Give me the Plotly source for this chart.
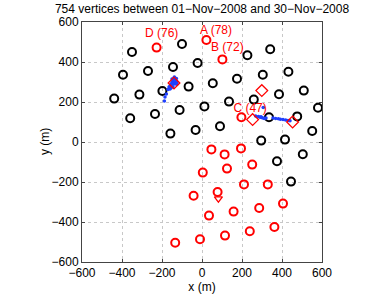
import plotly.graph_objects as go

# Black circles (other stations)
black_x = [-350, -100, -395, -270, -145, -22, 227, 341, 304, 432, 175, 54, -67, -198, -313, -439,
           -359, -235, -112, 12, 135, 259, 385, 509, 580, 335, 476, 551, 90, -32, -158, 296, 415,
           504, 375, 445]
black_y = [450, 490, 336, 355, 375, 395, 434, 464, 336, 351, 316, 294, 277, 255, 237, 217,
           119, 140, 160, 178, 202, 212, 239, 257, 171, 124, 128, 55, 79, 60, 42, 7, 12,
           -61, -96, -198]

# Red circles (selected stations)
red_x = [22, -227, 102, 197, 47, 195, 113, 251, 125, 4, 210, 329, 78, -42, 405, 286, 158, 35,
         362, 239, 115, -10, -134]
red_y = [510, 472, 413, 124, -37, -32, -62, -113, -133, -153, -212, -212, -250, -269, -308, -330,
         -348, -368, -425, -446, -468, -486, -504]

# Red diamonds
dia_x = [-140, 299, 253, 453]
dia_y = [295, 257, 112, 100]

# Red triangle
tri_x = [82]
tri_y = [-283]

# Blue vertices (visible)
blue_x = [-160, -155, -150, -145, -140, -135, -130, -125, -150, -140, -135, -130, -145, -155,
          -160, -150, -138, -128, -125, -165, -170, -178, -185, -188, -142, -148,
          268, 282, 290, 298, 305, 312, 320, 295, 306, 355, 368, 382, 392, 405, 418, 430, 440]
blue_y = [280, 290, 300, 310, 320, 315, 305, 300, 285, 290, 295, 290, 275, 270,
          265, 315, 325, 318, 290, 275, 262, 240, 225, 205, 300, 295,
          130, 127, 124, 122, 120, 118, 120, 126, 172, 120, 118, 116, 114, 112, 110, 108, 106]

# Labels
lab_text = ["A (78)", "D (76)", "B (72)", "C (47)"]
lab_x = [-10, -285, 45, 157]
lab_y = [555, 538, 468, 167]

x_ticks = [-600, -400, -200, 0, 200, 400, 600]
y_ticks = [-600, -400, -200, 0, 200, 400, 600]

fig = go.Figure()
fig.add_trace(go.Scatter(x=black_x, y=black_y, mode="markers",
                         marker=dict(symbol="circle-open", size=8, color="black",
                                     line=dict(width=2, color="black"))))
fig.add_trace(go.Scatter(x=blue_x, y=blue_y, mode="markers",
                         marker=dict(symbol="circle", size=3.5, color="#1f3fff")))
fig.add_trace(go.Scatter(x=red_x, y=red_y, mode="markers",
                         marker=dict(symbol="circle-open", size=8, color="red",
                                     line=dict(width=2, color="red"))))
fig.add_trace(go.Scatter(x=dia_x, y=dia_y, mode="markers",
                         marker=dict(symbol="diamond-open", size=9, color="red",
                                     line=dict(width=1.3, color="red"))))
fig.add_trace(go.Scatter(x=tri_x, y=tri_y, mode="markers",
                         marker=dict(symbol="triangle-down-open", size=7, color="red",
                                     line=dict(width=1.3, color="red"))))
fig.add_trace(go.Scatter(x=lab_x, y=lab_y, mode="text", text=lab_text,
                         textposition="middle right",
                         textfont=dict(color="red", size=12, family="Liberation Sans")))

axis_common = dict(range=[-600, 600], showgrid=True, gridcolor="#c8c8c8", griddash="dot",
                   gridwidth=1, zeroline=False, showline=True, linecolor="#444",
                   linewidth=1, mirror="ticks", ticks="inside", ticklen=3, tickcolor="#444",
                   automargin=False,
                   tickfont=dict(size=12, color="black", family="Liberation Sans"))

fig.update_layout(
    width=391, height=294,
    margin=dict(l=82, r=69, t=22, b=32, autoexpand=False),
    paper_bgcolor="white", plot_bgcolor="white",
    showlegend=False,
    hovermode=False,
    title=dict(text="754 vertices between 01\u2212Nov\u22122008 and 30\u2212Nov\u22122008",
               x=202 / 391, xanchor="center", xref="container",
               y=1 - 9 / 294, yanchor="middle", yref="container", automargin=False,
               font=dict(size=12, color="black", family="Liberation Sans")),
    xaxis=dict(axis_common, tickvals=x_ticks,
               title=dict(text="x (m)", standoff=2,
                          font=dict(size=12, color="black", family="Liberation Sans"))),
    yaxis=dict(axis_common, tickvals=y_ticks),
    annotations=[dict(text="y (m)", xref="paper", yref="paper", x=(45 - 82) / 240, y=0.5,
                      xanchor="center", yanchor="middle", textangle=-90, showarrow=False,
                      font=dict(size=12, color="black", family="Liberation Sans"))],
    font=dict(family="Liberation Sans"),
)

fig.write_html("out.html", config={"displayModeBar": False},
               post_script="document.body.style.margin='0px';document.body.style.overflow='hidden';")
